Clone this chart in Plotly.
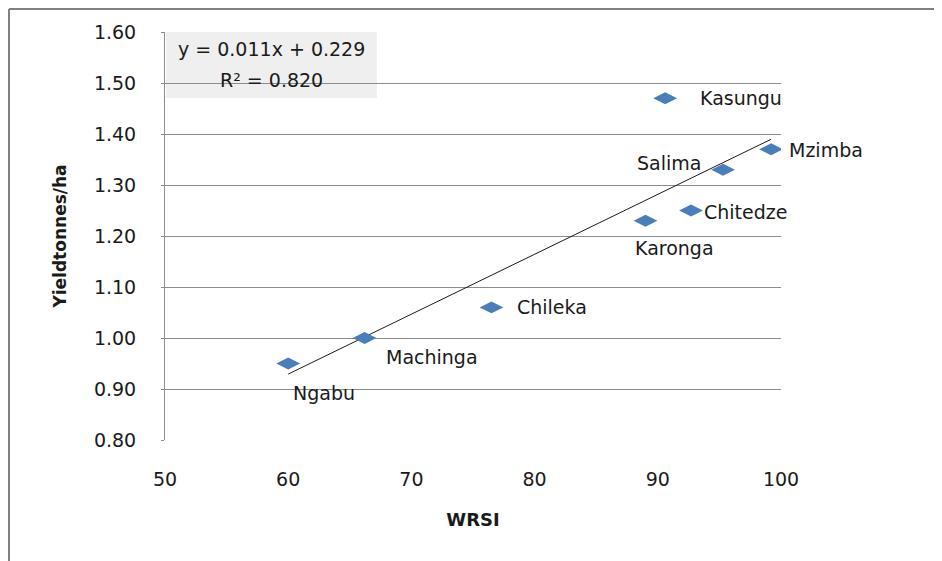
import numpy as np
import plotly.graph_objects as go

# ---- data ----
stations = ["Ngabu", "Machinga", "Chileka", "Karonga", "Kasungu", "Chitedze", "Salima", "Mzimba"]
wrsi = [60.0, 66.2, 76.5, 89.0, 90.6, 92.7, 95.3, 99.2]
yield_t = [0.95, 1.00, 1.06, 1.23, 1.47, 1.25, 1.33, 1.37]
equation_text = "y = 0.011x + 0.229"
r2_text = "R² = 0.820"
x_ticks = [50, 60, 70, 80, 90, 100]
y_ticks = [0.80, 0.90, 1.00, 1.10, 1.20, 1.30, 1.40, 1.50, 1.60]

# label placement (style): xanchor, xshift, yshift
label_style = {
    "Ngabu": ("left", 3, -29),
    "Machinga": ("left", 19, -19),
    "Chileka": ("left", 24, 0),
    "Karonga": ("center", 29, -27),
    "Kasungu": ("left", 33, 0),
    "Chitedze": ("left", 11, -1),
    "Salima": ("right", -20, 7),
    "Mzimba": ("left", 16, -1),
}

FONT = "DejaVu Sans"

# linear fit from the data
slope, intercept = np.polyfit(wrsi, yield_t, 1)
fx = np.array([min(wrsi), max(wrsi)])
fy = slope * fx + intercept

fig = go.Figure()
fig.add_trace(go.Scatter(x=fx, y=fy, mode="lines",
                         line=dict(color="#1a1a1a", width=1), hoverinfo="skip"))
fig.add_trace(go.Scatter(x=wrsi, y=yield_t, mode="markers",
                         marker=dict(symbol="diamond-wide", size=17, color="#4a7ebb",
                                     line=dict(width=0))))

for name, xv, yv in zip(stations, wrsi, yield_t):
    anc, xs, ys = label_style[name]
    fig.add_annotation(x=xv, y=yv, text=name, showarrow=False, xanchor=anc,
                       yanchor="middle", xshift=xs, yshift=ys,
                       font=dict(family=FONT, size=19, color="#1a1a1a"))

# figure is drawn 8px in from the page corner; layout in figure pixels
L, R, T, B = 157, 773, 24, 432
W, H = R - L, B - T
def px(x):
    return (x - L) / W
def py(y):
    return (B - y) / H

# equation box
fig.add_shape(type="rect", xref="paper", yref="paper", x0=px(158), x1=px(369), y0=py(24), y1=py(90),
              fillcolor="#efefef", line=dict(width=0), layer="below")
fig.add_annotation(xref="paper", yref="paper", x=px(263), y=py(41), xanchor="center", yanchor="middle",
                   text=equation_text, showarrow=False,
                   font=dict(family=FONT, size=19, color="#1a1a1a"))
fig.add_annotation(xref="paper", yref="paper", x=px(263), y=py(72), xanchor="center", yanchor="middle",
                   text=r2_text, showarrow=False,
                   font=dict(family=FONT, size=19, color="#1a1a1a"))

# outer frame (left and top edges)
fig.add_shape(type="line", xref="paper", yref="paper", x0=px(1), x1=px(1), y0=py(1), y1=py(600),
              line=dict(color="#808080", width=2))
fig.add_shape(type="line", xref="paper", yref="paper", x0=px(1), x1=px(960), y0=py(1), y1=py(1),
              line=dict(color="#808080", width=2))

fig.update_layout(
    width=942, height=561,
    margin=dict(l=L, r=942 - R, t=T, b=561 - B),
    paper_bgcolor="white", plot_bgcolor="rgba(0,0,0,0)",
    showlegend=False,
    font=dict(family=FONT, size=18, color="#1a1a1a"),
)
fig.update_xaxes(range=[50, 100], tickvals=x_ticks, ticktext=[str(v) for v in x_ticks],
                 showgrid=False, zeroline=False, showline=False, ticks="",
                 ticklabelstandoff=26, tickfont=dict(size=19),
                 title=dict(text="<b>WRSI</b>", font=dict(family=FONT, size=18), standoff=24))
fig.update_yaxes(range=[0.8, 1.6], tickvals=y_ticks, ticktext=[f"{v:.2f}" for v in y_ticks],
                 showgrid=True, gridcolor="#8c8c8c", gridwidth=1, zeroline=False,
                 showline=True, linecolor="#8c8c8c", linewidth=1,
                 ticks="outside", ticklen=3, tickcolor="#8c8c8c",
                 ticklabelstandoff=21, tickfont=dict(size=19),
                 title=dict(text="<b>Yieldtonnes/ha</b>", font=dict(family=FONT, size=17), standoff=22))

fig.write_html("out.html")
